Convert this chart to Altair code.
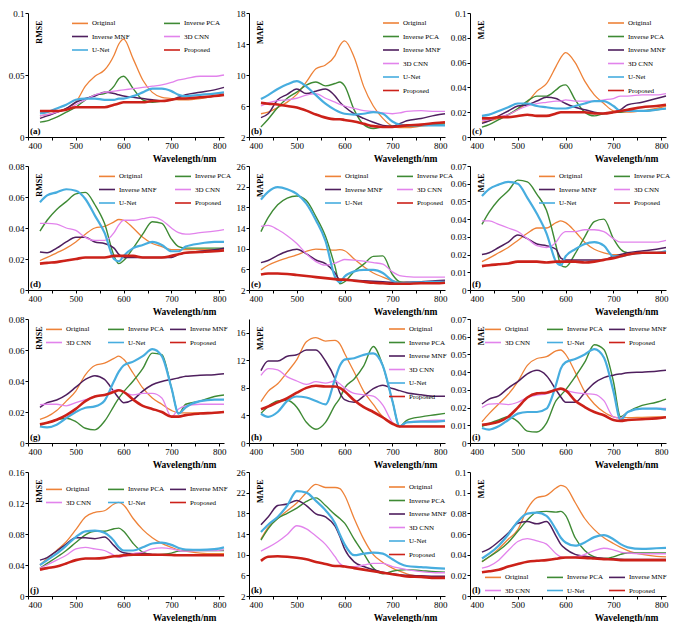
import altair as alt
import pandas as pd

SERIF = "Liberation Serif"
WL = [425, 440, 460, 480, 500, 520, 540, 560, 580, 590, 600, 620, 640, 660, 680, 700, 715, 730, 760, 790, 810]
SERIES = ["Original", "Inverse PCA", "Inverse MNF", "3D CNN", "U-Net", "Proposed"]
COLORS = ["#EE8238", "#3E8A34", "#4F1F5E", "#E283EC", "#47ADDF", "#CC2119"]
LINE_W = {"Original": 1.3, "Inverse PCA": 1.4, "Inverse MNF": 1.5, "3D CNN": 1.3, "U-Net": 2.2, "Proposed": 2.6}
X_TICKS = [400, 450, 500, 550, 600, 650, 700, 750, 800]

A = {
    "Original": [.017, .018, .020, .023, .028, .041, .049, .054, .066, .075, .079, .063, .046, .036, .032, .031, .030, .030, .031, .033, .034],
    "Inverse PCA": [.012, .013, .016, .020, .024, .030, .034, .035, .041, .047, .049, .039, .030, .028, .029, .030, .031, .031, .032, .033, .034],
    "Inverse MNF": [.015, .017, .020, .023, .028, .031, .033, .036, .035, .034, .033, .032, .031, .030, .029, .030, .032, .034, .036, .038, .040],
    "3D CNN": [.017, .018, .020, .022, .026, .030, .034, .036, .037, .0375, .038, .039, .040, .041, .042, .044, .046, .047, .049, .049, .050],
    "U-Net": [.019, .020, .023, .026, .030, .031, .031, .030, .030, .031, .031, .033, .036, .039, .039, .037, .034, .033, .034, .035, .036],
    "Proposed": [.021, .021, .021, .022, .024, .024, .024, .024, .026, .027, .028, .028, .028, .029, .029, .030, .031, .031, .032, .033, .034],
}
B = {
    "Original": [5.0, 5.2, 5.8, 6.5, 7.5, 9.1, 10.8, 11.3, 12.5, 13.8, 14.4, 12.3, 8.5, 6.0, 4.4, 3.4, 3.2, 3.2, 3.4, 3.6, 3.8],
    "Inverse PCA": [3.3, 4.3, 5.8, 7.0, 7.8, 8.7, 9.1, 8.6, 8.9, 9.1, 8.6, 5.5, 3.6, 3.1, 3.3, 3.4, 3.4, 3.4, 3.5, 3.6, 3.7],
    "Inverse MNF": [4.5, 5.0, 6.8, 7.5, 8.2, 7.6, 7.9, 8.2, 7.3, 6.5, 5.9, 5.0, 4.4, 3.9, 3.5, 3.4, 3.7, 4.1, 4.4, 4.8, 5.0],
    "3D CNN": [6.0, 6.4, 6.7, 6.8, 7.0, 7.4, 7.6, 7.0, 6.5, 6.2, 6.0, 5.7, 5.4, 5.3, 5.1, 5.0, 5.1, 5.3, 5.4, 5.3, 5.3],
    "U-Net": [6.9, 7.4, 8.2, 8.8, 9.2, 8.5, 7.4, 6.3, 5.5, 5.2, 5.0, 4.9, 5.0, 5.2, 5.0, 4.0, 3.6, 3.5, 3.5, 3.5, 3.5],
    "Proposed": [6.4, 6.3, 6.2, 6.0, 5.8, 5.4, 4.9, 4.5, 4.3, 4.3, 4.2, 4.0, 3.7, 3.4, 3.3, 3.3, 3.4, 3.5, 3.6, 3.8, 3.9],
}
C = {
    "Original": [.012, .013, .015, .018, .022, .028, .037, .043, .057, .064, .068, .060, .045, .034, .027, .021, .020, .020, .021, .023, .025],
    "Inverse PCA": [.008, .010, .014, .018, .023, .029, .033, .033, .038, .041, .042, .030, .020, .017, .019, .020, .020, .021, .021, .022, .023],
    "Inverse MNF": [.011, .013, .017, .021, .025, .026, .029, .032, .031, .029, .027, .024, .022, .020, .019, .020, .022, .026, .028, .031, .033],
    "3D CNN": [.013, .014, .016, .018, .022, .025, .027, .028, .029, .029, .030, .029, .029, .029, .030, .031, .033, .033, .034, .034, .035],
    "U-Net": [.017, .018, .021, .024, .027, .027, .025, .024, .023, .023, .023, .025, .027, .029, .029, .025, .021, .021, .021, .022, .023],
    "Proposed": [.015, .015, .016, .016, .017, .018, .017, .017, .019, .020, .020, .020, .020, .019, .019, .020, .021, .022, .024, .025, .026],
}
D = {
    "Original": [.019, .021, .024, .027, .031, .036, .040, .041, .044, .0455, .045, .040, .034, .030, .028, .026, .026, .026, .026, .026, .026],
    "Inverse PCA": [.038, .045, .052, .057, .062, .063, .055, .043, .022, .017, .019, .027, .036, .044, .043, .033, .028, .027, .027, .027, .027],
    "Inverse MNF": [.0245, .024, .027, .031, .034, .034, .031, .030, .027, .023, .021, .021, .021, .021, .021, .021, .023, .024, .025, .026, .027],
    "3D CNN": [.043, .043, .0425, .040, .0385, .034, .032, .032, .037, .042, .045, .045, .046, .047, .045, .040, .037, .036, .037, .038, .039],
    "U-Net": [.0566, .061, .063, .065, .064, .0587, .048, .037, .020, .0185, .022, .027, .029, .031, .029, .025, .025, .028, .030, .031, .031],
    "Proposed": [.017, .0175, .018, .019, .020, .021, .021, .021, .022, .022, .022, .022, .021, .021, .021, .022, .023, .024, .0245, .025, .0255],
}
E = {
    "Original": [5.9, 6.8, 7.6, 8.2, 8.8, 9.5, 9.9, 9.8, 9.7, 9.8, 9.6, 8.0, 6.5, 5.3, 4.5, 3.8, 3.5, 3.5, 3.5, 3.5, 3.5],
    "Inverse PCA": [13.3, 16.0, 18.5, 19.8, 20.2, 19.3, 16.2, 12.4, 6.5, 3.2, 3.6, 5.6, 7.0, 8.5, 8.6, 5.0, 3.6, 3.4, 3.4, 3.4, 3.4],
    "Inverse MNF": [7.3, 7.7, 8.7, 9.5, 9.9, 9.0, 7.8, 7.1, 5.3, 4.0, 4.0, 3.9, 3.8, 3.7, 3.6, 3.5, 3.4, 3.5, 3.6, 3.8, 3.9],
    "3D CNN": [14.3, 14.5, 13.7, 12.5, 11.0, 9.0, 7.5, 6.8, 7.2, 7.6, 7.9, 7.8, 7.6, 7.3, 7.0, 5.5, 4.8, 4.6, 4.5, 4.5, 4.5],
    "U-Net": [19.5, 21.0, 21.9, 21.5, 20.6, 18.7, 15.5, 11.5, 4.5, 3.5, 4.6, 5.6, 5.9, 5.9, 5.3, 3.8, 3.4, 3.4, 3.5, 3.6, 3.6],
    "Proposed": [5.0, 5.2, 5.2, 5.1, 4.9, 4.7, 4.5, 4.3, 4.1, 4.0, 4.0, 3.8, 3.6, 3.4, 3.3, 3.2, 3.2, 3.2, 3.3, 3.3, 3.4],
}
F = {
    "Original": [.016, .018, .021, .024, .028, .032, .035, .035, .038, .039, .038, .033, .027, .023, .021, .020, .020, .020, .021, .021, .021],
    "Inverse PCA": [.037, .044, .051, .056, .062, .061, .054, .045, .025, .014, .013, .0205, .030, .0386, .040, .029, .023, .021, .021, .021, .021],
    "Inverse MNF": [.020, .021, .024, .027, .031, .029, .026, .025, .023, .018, .017, .017, .017, .017, .017, .019, .020, .021, .022, .023, .024],
    "3D CNN": [.039, .039, .037, .035, .033, .029, .025, .024, .027, .031, .033, .033, .034, .034, .033, .029, .027, .027, .027, .027, .028],
    "U-Net": [.053, .057, .0595, .061, .060, .052, .043, .032, .016, .014, .019, .023, .026, .027, .025, .019, .019, .020, .021, .021, .022],
    "Proposed": [.0135, .014, .0145, .015, .016, .016, .016, .0155, .016, .016, .016, .016, .0155, .016, .017, .018, .019, .020, .021, .021, .021],
}
G = {
    "Original": [.0153, .017, .021, .027, .0335, .044, .050, .0515, .0546, .056, .054, .045, .0355, .029, .025, .021, .0195, .0195, .0195, .0195, .020],
    "Inverse PCA": [.012, .013, .015, .016, .0138, .0095, .0085, .014, .024, .029, .033, .040, .048, .058, .057, .0356, .019, .025, .027, .030, .031],
    "Inverse MNF": [.023, .026, .0277, .031, .036, .041, .0434, .041, .033, .029, .026, .028, .0335, .0376, .0397, .041, .042, .043, .0437, .044, .0446],
    "3D CNN": [.0248, .025, .025, .024, .026, .028, .030, .031, .034, .0345, .033, .031, .032, .032, .029, .017, .022, .024, .025, .025, .025],
    "U-Net": [.0107, .0101, .0118, .016, .020, .0227, .0236, .0273, .040, .046, .050, .0525, .056, .0605, .056, .0356, .019, .023, .027, .028, .028],
    "Proposed": [.012, .013, .015, .018, .022, .027, .030, .031, .033, .034, .033, .028, .024, .022, .020, .017, .017, .018, .019, .0195, .020],
}
H_ = {
    "Original": [6.0, 7.5, 8.6, 10.3, 12.1, 14.7, 15.3, 14.8, 14.9, 14.4, 13.0, 10.3, 7.5, 5.6, 3.8, 2.9, 2.5, 2.4, 2.4, 2.4, 2.4],
    "Inverse PCA": [4.3, 5.3, 6.1, 6.2, 5.2, 3.0, 2.0, 3.0, 5.5, 6.5, 8.0, 9.3, 11.2, 14.0, 11.2, 6.1, 2.4, 3.3, 3.8, 4.1, 4.3],
    "Inverse MNF": [10.5, 11.9, 11.9, 12.6, 12.8, 13.5, 13.5, 11.9, 9.3, 7.3, 6.3, 5.9, 6.8, 7.9, 8.4, 7.9, 7.6, 7.3, 7.0, 6.8, 6.8],
    "3D CNN": [9.8, 10.8, 10.6, 9.6, 9.0, 8.5, 8.9, 8.7, 9.0, 8.6, 8.0, 7.2, 7.0, 6.8, 5.5, 3.0, 2.4, 3.0, 3.2, 3.3, 3.3],
    "U-Net": [4.25, 3.8, 4.5, 6.1, 6.75, 6.6, 6.1, 5.6, 9.3, 11.2, 12.1, 12.3, 12.8, 13.0, 11.2, 6.1, 2.4, 3.0, 3.1, 3.1, 3.2],
    "Proposed": [4.9, 5.3, 5.9, 6.5, 7.3, 8.0, 8.3, 8.2, 8.2, 8.0, 7.5, 6.2, 5.2, 4.5, 3.7, 2.8, 2.4, 2.4, 2.4, 2.4, 2.4],
}
I = {
    "Original": [.012, .0166, .022, .0275, .0347, .0438, .0477, .0487, .052, .0525, .050, .040, .029, .022, .0175, .0148, .0143, .0143, .0145, .0147, .0148],
    "Inverse PCA": [.0094, .011, .013, .0148, .0121, .0067, .0062, .0112, .0239, .027, .030, .0374, .0456, .0555, .0528, .0347, .0148, .0175, .0212, .023, .0248],
    "Inverse MNF": [.022, .0248, .0266, .031, .0347, .039, .041, .038, .030, .026, .023, .023, .0284, .0338, .0369, .0383, .039, .0396, .040, .0405, .041],
    "3D CNN": [.020, .022, .0222, .0217, .023, .0257, .027, .0278, .0306, .0306, .0297, .0284, .0278, .0275, .0239, .0148, .014, .0175, .0194, .0195, .0195],
    "U-Net": [.0085, .0076, .0094, .013, .0166, .0175, .0175, .0194, .033, .042, .0456, .0474, .050, .053, .0483, .0293, .013, .0175, .0194, .0194, .0188],
    "Proposed": [.0103, .0108, .012, .0148, .020, .0257, .028, .0284, .030, .0307, .0297, .0239, .0203, .0175, .0157, .013, .0125, .013, .0134, .0139, .0145],
}
J = {
    "Original": [.040, .0484, .0587, .070, .0856, .102, .108, .110, .1187, .1207, .1174, .100, .0856, .0752, .0678, .0628, .0595, .058, .0554, .0546, .0546],
    "Inverse PCA": [.036, .042, .050, .0587, .069, .079, .0835, .0835, .0868, .0876, .0835, .0678, .0566, .0533, .0537, .0554, .058, .0587, .0587, .0587, .0587],
    "Inverse MNF": [.0463, .0496, .0579, .067, .0752, .0752, .074, .076, .065, .0587, .0558, .0546, .0546, .0537, .053, .053, .053, .053, .053, .053, .053],
    "3D CNN": [.036, .040, .0463, .0525, .0608, .0628, .0608, .0587, .0525, .050, .051, .0546, .0566, .0608, .062, .0608, .0587, .058, .0587, .0587, .0595],
    "U-Net": [.040, .0463, .0546, .065, .076, .0835, .0843, .0815, .0711, .0628, .0587, .0587, .0628, .0678, .069, .066, .062, .060, .0595, .0604, .0628],
    "Proposed": [.034, .036, .038, .042, .0463, .0484, .0484, .0492, .0513, .0517, .0525, .0533, .0533, .0533, .0533, .053, .0525, .0525, .0525, .0525, .0525],
}
K = {
    "Original": [13.0, 15.3, 17.0, 18.5, 20.0, 22.0, 23.6, 23.0, 23.0, 22.8, 21.5, 17.0, 13.0, 10.0, 8.5, 7.4, 6.8, 6.3, 5.8, 5.6, 5.5],
    "Inverse PCA": [12.8, 15.0, 17.0, 18.0, 19.0, 20.3, 21.0, 19.5, 17.75, 17.0, 16.1, 13.0, 10.2, 7.4, 6.3, 6.8, 7.0, 7.1, 6.9, 6.7, 6.6],
    "Inverse MNF": [15.8, 17.3, 19.5, 19.8, 20.5, 19.5, 17.9, 17.3, 15.5, 13.5, 11.1, 8.6, 7.7, 7.1, 6.6, 6.3, 6.1, 6.0, 5.9, 5.8, 5.8],
    "3D CNN": [10.7, 11.4, 12.5, 13.9, 15.6, 15.0, 13.6, 12.0, 9.6, 8.3, 7.8, 7.7, 8.0, 8.3, 8.3, 7.7, 7.4, 7.1, 6.7, 6.5, 6.5],
    "U-Net": [14.4, 15.8, 17.3, 19.5, 22.3, 22.0, 20.4, 18.6, 16.1, 13.9, 12.0, 9.9, 10.2, 10.4, 10.2, 9.1, 8.3, 7.8, 7.6, 7.4, 7.3],
    "Proposed": [8.8, 9.6, 9.7, 9.6, 9.4, 9.1, 8.6, 8.2, 7.8, 7.8, 7.7, 7.4, 7.1, 6.8, 6.5, 6.2, 6.0, 5.8, 5.7, 5.5, 5.5],
}
L = {
    "Original": [.0332, .0378, .0456, .0549, .0642, .0843, .0952, .0974, .1045, .107, .1054, .0905, .075, .0642, .0564, .0508, .0471, .044, .0403, .0384, .0378],
    "Inverse PCA": [.0332, .038, .044, .0518, .0626, .0735, .0812, .0819, .0812, .0819, .078, .0564, .044, .0378, .0363, .0378, .0403, .0416, .0416, .0416, .0416],
    "Inverse MNF": [.0425, .0456, .0527, .061, .0704, .072, .0698, .072, .058, .050, .0456, .0403, .0384, .0372, .0363, .036, .0355, .0353, .0353, .0353, .0353],
    "3D CNN": [.027, .029, .0347, .044, .0527, .0555, .0533, .0502, .0409, .0378, .0372, .0378, .0403, .044, .0462, .0446, .0425, .0416, .0409, .0409, .0409],
    "U-Net": [.0363, .0409, .0487, .0595, .072, .0797, .0806, .0775, .0642, .0564, .0518, .0487, .0518, .057, .0589, .0549, .0502, .0471, .0456, .0462, .0465],
    "Proposed": [.0229, .0239, .0254, .0285, .031, .0332, .0341, .0347, .036, .0369, .0372, .0372, .0369, .0363, .0357, .0353, .0347, .0347, .0347, .0347, .0347],
}


def steps(a, s, n):
    return [round(a + i * s, 4) for i in range(n)]


# letter, metric, values, y domain, y ticks, legend x, legend y, legend columns, column padding
PANELS = [
    ("(a)", "RMSE", A, [0, 0.1], [0, 0.05, 0.1], 43, 1, 2, 30),
    ("(b)", "MAPE", B, [2, 18], [2, 6, 10, 14, 18], 133, 1, 1, 0),
    ("(c)", "MAE", C, [0, 0.1], steps(0, 0.02, 6), 137, 1, 1, 0),
    ("(d)", "RMSE", D, [0, 0.08], steps(0, 0.02, 5), 70, 1, 2, 14),
    ("(e)", "MAPE", E, [2, 26], [2, 6, 10, 14, 18, 22, 26], 75, 1, 2, 10),
    ("(f)", "MAE", F, [0, 0.07], steps(0, 0.01, 8), 68, 1, 2, 13),
    ("(g)", "RMSE", G, [0, 0.08], steps(0, 0.02, 5), 17, 1, 3, 0),
    ("(h)", "MAPE", H_, [0, 18], [0, 4, 8, 12, 16], 139, 1, 1, 0),
    ("(i)", "MAE", I, [0, 0.07], steps(0, 0.01, 8), 14, 1, 3, 0),
    ("(j)", "RMSE", J, [0, 0.16], steps(0, 0.04, 5), 17, 8, 3, 0),
    ("(k)", "MAPE", K, [2, 26], [2, 6, 10, 14, 18, 22, 26], 139, 6, 1, 0),
    ("(l)", "MAE", L, [0, 0.12], steps(0, 0.02, 7), 14, 96, 3, 0),
]

W, H = 196, 124


def panel(letter, metric, vals, ydom, yticks, lx, ly, cols, cpad):
    rows = []
    for s in SERIES:
        for wl, v in zip(WL, vals[s]):
            rows.append({"wl": wl, "val": v, "series": s, "lw": LINE_W[s]})
    df = pd.DataFrame(rows)
    leg = alt.Legend(
        orient="none", legendX=lx, legendY=ly, columns=cols, direction="horizontal", title=None,
        symbolType="stroke", symbolSize=256, symbolStrokeWidth=1.6,
        labelFont=SERIF, labelFontSize=7, labelColor="black", labelOffset=3,
        rowPadding=0.5, columnPadding=cpad, gridAlign="all", padding=0,
    )
    lines = alt.Chart(df).mark_line(interpolate="monotone").encode(
        x=alt.X("wl:Q", scale=alt.Scale(domain=[400, 810], nice=False),
                axis=alt.Axis(values=X_TICKS, labelExpr="datum.value % 100 == 0 ? datum.label : ''",
                              title="Wavelength/nm", titleX=W - 8, titleY=24, titleAlign="right",
                              titleBaseline="alphabetic")),
        y=alt.Y("val:Q", scale=alt.Scale(domain=ydom, nice=False, zero=False),
                axis=alt.Axis(values=yticks, format="~g", title=metric, titleAngle=270,
                              titleX=13, titleY=7, titleAlign="right", titleBaseline="alphabetic")),
        color=alt.Color("series:N", scale=alt.Scale(domain=SERIES, range=COLORS), legend=leg, sort=SERIES),
        strokeWidth=alt.StrokeWidth("lw:Q", scale=None),
    )
    lab = alt.Chart(pd.DataFrame({"t": [letter]})).mark_text(
        align="left", baseline="bottom", font=SERIF, fontSize=9, fontWeight="bold", color="black"
    ).encode(text="t:N", x=alt.value(2), y=alt.value(H - 1))
    return alt.layer(lines, lab).properties(width=W, height=H)


charts = [panel(*p) for p in PANELS]
chart = alt.concat(*charts, columns=3, spacing={"row": 29, "column": 25}, bounds="flush").resolve_scale(
    color="independent").resolve_legend(color="independent").properties(
    padding={"left": 0, "right": 0, "top": 1, "bottom": 0}
).configure_view(strokeWidth=0).configure_axis(
    grid=False, domainColor="black", tickColor="black", labelColor="black", titleColor="black",
    labelFont=SERIF, titleFont=SERIF, labelFontSize=9, titleFontWeight="bold", tickSize=3,
    labelPadding=1,
).configure_axisX(titleFontSize=9.5).configure_axisY(titleFontSize=8)

chart.save("out.html", embed_options={"renderer": "svg", "actions": False})
